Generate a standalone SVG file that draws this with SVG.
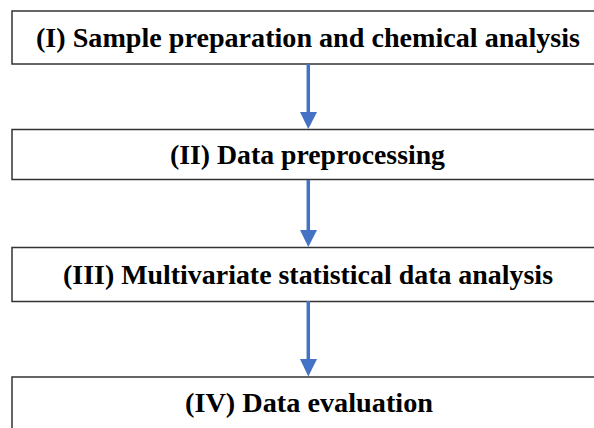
<svg xmlns="http://www.w3.org/2000/svg" width="594" height="428" viewBox="0 0 594 428">
<style>
.box{fill:#fff;stroke:#333;stroke-width:1.5}
.lbl{font-family:'Liberation Serif',serif;font-weight:700;font-size:27px;fill:#000;text-anchor:middle}
.arr{stroke:#4472C4;stroke-width:3.5;fill:none}
.head{fill:#4472C4}
</style>
<rect width="594" height="428" fill="#fff"/>
<g id="node1"><rect class="box" x="12" y="11" width="600" height="53"/><text class="lbl" x="308" y="46.5" textLength="544" lengthAdjust="spacingAndGlyphs">(I) Sample preparation and chemical analysis</text></g>
<g id="node2"><rect class="box" x="12" y="129.5" width="600" height="50"/><text class="lbl" x="307.5" y="164" textLength="275" lengthAdjust="spacingAndGlyphs">(II) Data preprocessing</text></g>
<g id="node3"><rect class="box" x="12" y="247.5" width="600" height="54"/><text class="lbl" x="308" y="283.5" textLength="490" lengthAdjust="spacingAndGlyphs">(III) Multivariate statistical data analysis</text></g>
<g id="node4"><rect class="box" x="12" y="377" width="600" height="60"/><text class="lbl" x="309" y="411.5" textLength="248" lengthAdjust="spacingAndGlyphs">(IV) Data evaluation</text></g>
<g id="connectors">
<line class="arr" x1="308.3" y1="64" x2="308.3" y2="113"/><polygon class="head" points="300,112 317,112 308.3,129"/>
<line class="arr" x1="308.3" y1="180" x2="308.3" y2="231"/><polygon class="head" points="300,230 317,230 308.3,247"/>
<line class="arr" x1="308.3" y1="301" x2="308.3" y2="360"/><polygon class="head" points="300,359 317,359 308.3,376.5"/>
</g>
</svg>
